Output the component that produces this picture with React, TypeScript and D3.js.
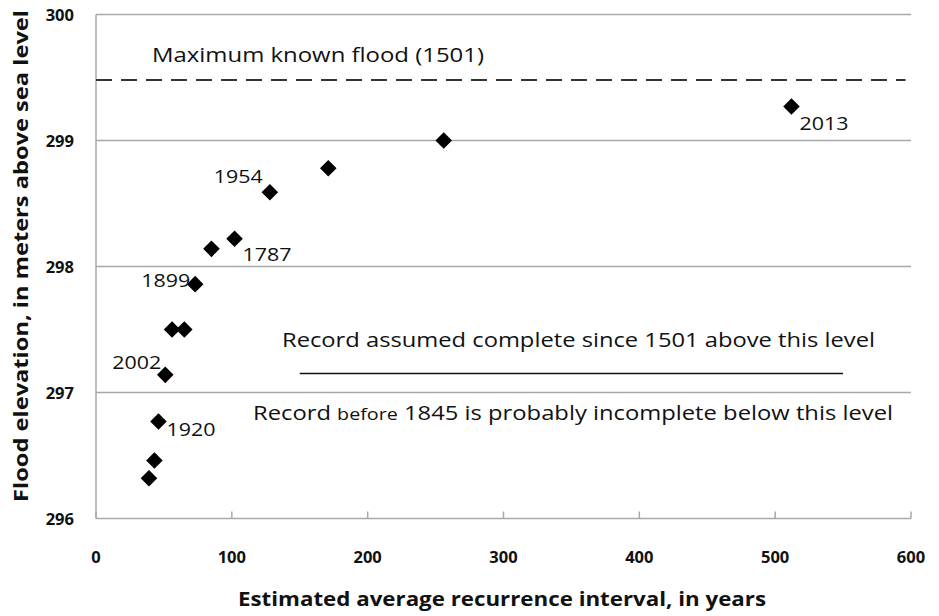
import React from 'react';
import * as d3 from 'd3';

const width = 939;
const height = 616;
const margin = { left: 96, right: 28, top: 14.5, bottom: 97.5 };

// recurrence interval (years) and flood elevation (m)
const recurrence = [512, 256, 171, 128, 102, 85, 73, 65, 56, 51, 46, 43, 39];
const elevation = [299.27, 299.0, 298.78, 298.59, 298.22, 298.14, 297.86, 297.5, 297.5, 297.14, 296.77, 296.46, 296.32];
const yearLabels = ['2013', '', '', '1954', '1787', '', '1899', '', '', '2002', '1920', '', ''];

const xTicks = [0, 100, 200, 300, 400, 500, 600];
const yTicks = [296, 297, 298, 299, 300];

const maxFlood = 299.48;
const completeLevel = 297.15;
const completeRange = [150, 550];

const font = '"Open Sans", "Noto Sans", sans-serif';

// label offsets relative to the point (px)
const labelPos: Record<string, [number, number, string]> = {
    '2013': [8, 24, 'start'],
    '1954': [-7, -9, 'end'],
    '1787': [8, 22, 'start'],
    '1899': [-5, 3, 'end'],
    '2002': [-4, -6, 'end'],
    '1920': [8, 15, 'start'],
};

export default function App() {
    const x = d3.scaleLinear().domain([0, 600]).range([margin.left, width - margin.right]);
    const y = d3.scaleLinear().domain([296, 300]).range([height - margin.bottom, margin.top]);

    const points = recurrence.map((r, i) => ({ r, e: elevation[i], label: yearLabels[i] }));
    const diamond = d3.symbol().type(d3.symbolDiamond2).size(175)();

    return (
        <svg width={width} height={height} style={{ position: 'absolute', left: 0, top: 0, background: '#fff' }}>
            {/* gridlines */}
            {yTicks.filter(t => t > 296).map(t => (
                <line key={t} x1={x(0)} x2={x(600)} y1={y(t)} y2={y(t)} stroke="#a8a8a8" strokeWidth={1.5} />
            ))}
            {/* axes */}
            <line x1={x(0)} x2={x(0)} y1={y(300)} y2={y(296)} stroke="#a8a8a8" strokeWidth={1.5} />
            <line x1={x(0)} x2={x(600)} y1={y(296)} y2={y(296)} stroke="#a8a8a8" strokeWidth={1.5} />
            {xTicks.map(t => (
                <line key={t} x1={x(t)} x2={x(t)} y1={y(296)} y2={y(296) - 7} stroke="#a8a8a8" strokeWidth={1.5} />
            ))}
            {xTicks.map(t => (
                <text key={t} x={x(t)} y={y(296) + 44} textAnchor="middle" fontFamily={font} fontWeight="bold" fontSize={16.5} fill="#111">{t}</text>
            ))}
            {yTicks.map(t => (
                <text key={t} x={74} y={y(t) + 6} textAnchor="end" fontFamily={font} fontWeight="bold" fontSize={16.5} fill="#111">{t}</text>
            ))}

            {/* maximum known flood */}
            <line x1={x(0)} x2={x(596)} y1={y(maxFlood)} y2={y(maxFlood)} stroke="#333" strokeWidth={2} strokeDasharray="16,9" />
            <text x={152} y={62} fontFamily={font} fontSize={20.5} fill="#111" textLength={332} lengthAdjust="spacingAndGlyphs">Maximum known flood (1501)</text>

            {/* completeness threshold */}
            <line x1={x(completeRange[0])} x2={x(completeRange[1])} y1={y(completeLevel)} y2={y(completeLevel)} stroke="#111" strokeWidth={1.5} />
            <text x={282} y={347} fontFamily={font} fontSize={20.5} fill="#111" textLength={593} lengthAdjust="spacingAndGlyphs">Record assumed complete since 1501 above this level</text>
            <text x={253} y={420} fontFamily={font} fontSize={20.5} fill="#111" textLength={640} lengthAdjust="spacingAndGlyphs">
                Record <tspan fontSize={17}>before</tspan> 1845 is probably incomplete below this level
            </text>

            {/* points */}
            {points.map((p, i) => (
                <path key={i} d={diamond ?? ''} transform={`translate(${x(p.r)},${y(p.e)})`} fill="#000" />
            ))}
            {points.filter(p => p.label).map(p => {
                const [dx, dy, anchor] = labelPos[p.label];
                return (
                    <text key={p.label} x={x(p.r) + dx} y={y(p.e) + dy} textAnchor={anchor as any}
                        fontFamily={font} fontSize={19} fill="#111" textLength={49} lengthAdjust="spacingAndGlyphs">{p.label}</text>
                );
            })}

            {/* axis titles */}
            <text x={238} y={606} fontFamily={font} fontWeight="bold" fontSize={20} fill="#111" textLength={528} lengthAdjust="spacingAndGlyphs">
                Estimated average recurrence interval, in years
            </text>
            <text transform="translate(28,502) rotate(-90)" fontFamily={font} fontWeight="bold" fontSize={20} fill="#111" textLength={492} lengthAdjust="spacingAndGlyphs">
                Flood elevation, in meters above sea level
            </text>
        </svg>
    );
}
